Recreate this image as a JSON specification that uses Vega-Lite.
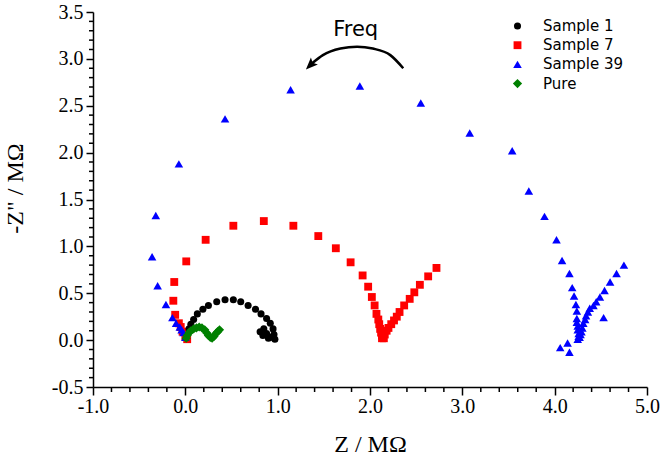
{
  "$schema": "https://vega.github.io/schema/vega-lite/v6.json",
  "width": 554,
  "height": 375,
  "autosize": "none",
  "padding": {"left": 93, "top": 12, "right": 19, "bottom": 68},
  "background": "white",
  "config": {
    "view": {"stroke": null},
    "axis": {"grid": false, "labelFont": "Liberation Serif", "labelFontSize": 20, "labelColor": "black", "titleFont": "Liberation Serif", "titleFontSize": 24, "titleFontWeight": "normal", "titleColor": "black", "tickColor": "black", "tickWidth": 1.5, "domainColor": "black", "domainWidth": 1.5},
    "legend": {"labelFont": "DejaVu Sans", "labelFontSize": 15, "labelColor": "black"}
  },
  "layer": [
    {
      "data": {"values": [
        {"series": "Sample 7", "z": 0.02, "zi": 0.01},
        {"series": "Sample 7", "z": 0.00, "zi": 0.04},
        {"series": "Sample 7", "z": -0.03, "zi": 0.09},
        {"series": "Sample 7", "z": -0.05, "zi": 0.14},
        {"series": "Sample 7", "z": -0.07, "zi": 0.18},
        {"series": "Sample 7", "z": -0.11, "zi": 0.27},
        {"series": "Sample 7", "z": -0.13, "zi": 0.42},
        {"series": "Sample 7", "z": -0.12, "zi": 0.62},
        {"series": "Sample 7", "z": 0.01, "zi": 0.84},
        {"series": "Sample 7", "z": 0.22, "zi": 1.07},
        {"series": "Sample 7", "z": 0.52, "zi": 1.22},
        {"series": "Sample 7", "z": 0.85, "zi": 1.27},
        {"series": "Sample 7", "z": 1.17, "zi": 1.22},
        {"series": "Sample 7", "z": 1.44, "zi": 1.11},
        {"series": "Sample 7", "z": 1.63, "zi": 0.98},
        {"series": "Sample 7", "z": 1.79, "zi": 0.83},
        {"series": "Sample 7", "z": 1.92, "zi": 0.69},
        {"series": "Sample 7", "z": 1.98, "zi": 0.57},
        {"series": "Sample 7", "z": 2.02, "zi": 0.46},
        {"series": "Sample 7", "z": 2.05, "zi": 0.37},
        {"series": "Sample 7", "z": 2.07, "zi": 0.28},
        {"series": "Sample 7", "z": 2.09, "zi": 0.22},
        {"series": "Sample 7", "z": 2.10, "zi": 0.17},
        {"series": "Sample 7", "z": 2.11, "zi": 0.12},
        {"series": "Sample 7", "z": 2.12, "zi": 0.08},
        {"series": "Sample 7", "z": 2.13, "zi": 0.05},
        {"series": "Sample 7", "z": 2.13, "zi": 0.02},
        {"series": "Sample 7", "z": 2.15, "zi": 0.02},
        {"series": "Sample 7", "z": 2.16, "zi": 0.06},
        {"series": "Sample 7", "z": 2.18, "zi": 0.10},
        {"series": "Sample 7", "z": 2.20, "zi": 0.13},
        {"series": "Sample 7", "z": 2.23, "zi": 0.17},
        {"series": "Sample 7", "z": 2.26, "zi": 0.21},
        {"series": "Sample 7", "z": 2.29, "zi": 0.25},
        {"series": "Sample 7", "z": 2.32, "zi": 0.30},
        {"series": "Sample 7", "z": 2.37, "zi": 0.37},
        {"series": "Sample 7", "z": 2.43, "zi": 0.44},
        {"series": "Sample 7", "z": 2.48, "zi": 0.51},
        {"series": "Sample 7", "z": 2.54, "zi": 0.59},
        {"series": "Sample 7", "z": 2.63, "zi": 0.68},
        {"series": "Sample 7", "z": 2.72, "zi": 0.77},
        {"series": "Sample 39", "z": 0.00, "zi": 0.03},
        {"series": "Sample 39", "z": -0.02, "zi": 0.08},
        {"series": "Sample 39", "z": -0.04, "zi": 0.11},
        {"series": "Sample 39", "z": -0.06, "zi": 0.14},
        {"series": "Sample 39", "z": -0.10, "zi": 0.18},
        {"series": "Sample 39", "z": -0.14, "zi": 0.24},
        {"series": "Sample 39", "z": -0.21, "zi": 0.38},
        {"series": "Sample 39", "z": -0.30, "zi": 0.58},
        {"series": "Sample 39", "z": -0.36, "zi": 0.89},
        {"series": "Sample 39", "z": -0.32, "zi": 1.33},
        {"series": "Sample 39", "z": -0.07, "zi": 1.88},
        {"series": "Sample 39", "z": 0.43, "zi": 2.36},
        {"series": "Sample 39", "z": 1.14, "zi": 2.67},
        {"series": "Sample 39", "z": 1.89, "zi": 2.71},
        {"series": "Sample 39", "z": 2.55, "zi": 2.53},
        {"series": "Sample 39", "z": 3.08, "zi": 2.21},
        {"series": "Sample 39", "z": 3.54, "zi": 2.02},
        {"series": "Sample 39", "z": 3.72, "zi": 1.59},
        {"series": "Sample 39", "z": 3.89, "zi": 1.32},
        {"series": "Sample 39", "z": 4.02, "zi": 1.07},
        {"series": "Sample 39", "z": 4.08, "zi": 0.85},
        {"series": "Sample 39", "z": 4.16, "zi": 0.71},
        {"series": "Sample 39", "z": 4.19, "zi": 0.56},
        {"series": "Sample 39", "z": 4.21, "zi": 0.47},
        {"series": "Sample 39", "z": 4.23, "zi": 0.38},
        {"series": "Sample 39", "z": 4.24, "zi": 0.31},
        {"series": "Sample 39", "z": 4.24, "zi": 0.23},
        {"series": "Sample 39", "z": 4.24, "zi": 0.19},
        {"series": "Sample 39", "z": 4.25, "zi": 0.15},
        {"series": "Sample 39", "z": 4.25, "zi": 0.11},
        {"series": "Sample 39", "z": 4.26, "zi": 0.07},
        {"series": "Sample 39", "z": 4.26, "zi": 0.04},
        {"series": "Sample 39", "z": 4.25, "zi": 0.01},
        {"series": "Sample 39", "z": 4.27, "zi": 0.03},
        {"series": "Sample 39", "z": 4.28, "zi": 0.06},
        {"series": "Sample 39", "z": 4.29, "zi": 0.09},
        {"series": "Sample 39", "z": 4.30, "zi": 0.13},
        {"series": "Sample 39", "z": 4.31, "zi": 0.18},
        {"series": "Sample 39", "z": 4.33, "zi": 0.22},
        {"series": "Sample 39", "z": 4.34, "zi": 0.26},
        {"series": "Sample 39", "z": 4.36, "zi": 0.30},
        {"series": "Sample 39", "z": 4.38, "zi": 0.34},
        {"series": "Sample 39", "z": 4.42, "zi": 0.37},
        {"series": "Sample 39", "z": 4.45, "zi": 0.41},
        {"series": "Sample 39", "z": 4.49, "zi": 0.46},
        {"series": "Sample 39", "z": 4.54, "zi": 0.53},
        {"series": "Sample 39", "z": 4.60, "zi": 0.62},
        {"series": "Sample 39", "z": 4.67, "zi": 0.71},
        {"series": "Sample 39", "z": 4.75, "zi": 0.80},
        {"series": "Sample 39", "z": 4.53, "zi": 0.24},
        {"series": "Sample 39", "z": 4.06, "zi": -0.08},
        {"series": "Sample 39", "z": 4.14, "zi": -0.03},
        {"series": "Sample 39", "z": 4.16, "zi": -0.13},
        {"series": "Sample 1", "z": 0.04, "zi": 0.12},
        {"series": "Sample 1", "z": 0.06, "zi": 0.17},
        {"series": "Sample 1", "z": 0.09, "zi": 0.22},
        {"series": "Sample 1", "z": 0.13, "zi": 0.28},
        {"series": "Sample 1", "z": 0.19, "zi": 0.33},
        {"series": "Sample 1", "z": 0.25, "zi": 0.37},
        {"series": "Sample 1", "z": 0.34, "zi": 0.41},
        {"series": "Sample 1", "z": 0.43, "zi": 0.43},
        {"series": "Sample 1", "z": 0.52, "zi": 0.43},
        {"series": "Sample 1", "z": 0.60, "zi": 0.41},
        {"series": "Sample 1", "z": 0.68, "zi": 0.37},
        {"series": "Sample 1", "z": 0.76, "zi": 0.33},
        {"series": "Sample 1", "z": 0.82, "zi": 0.28},
        {"series": "Sample 1", "z": 0.88, "zi": 0.23},
        {"series": "Sample 1", "z": 0.92, "zi": 0.18},
        {"series": "Sample 1", "z": 0.95, "zi": 0.12},
        {"series": "Sample 1", "z": 0.96, "zi": 0.06},
        {"series": "Sample 1", "z": 0.97, "zi": 0.01},
        {"series": "Sample 1", "z": 0.93, "zi": 0.03},
        {"series": "Sample 1", "z": 0.88, "zi": 0.07},
        {"series": "Sample 1", "z": 0.85, "zi": 0.12},
        {"series": "Sample 1", "z": 0.81, "zi": 0.09},
        {"series": "Sample 1", "z": 0.84, "zi": 0.05},
        {"series": "Sample 1", "z": 0.90, "zi": 0.02},
        {"series": "Pure", "z": 0.01, "zi": 0.02},
        {"series": "Pure", "z": 0.02, "zi": 0.05},
        {"series": "Pure", "z": 0.04, "zi": 0.08},
        {"series": "Pure", "z": 0.06, "zi": 0.10},
        {"series": "Pure", "z": 0.09, "zi": 0.12},
        {"series": "Pure", "z": 0.12, "zi": 0.13},
        {"series": "Pure", "z": 0.15, "zi": 0.14},
        {"series": "Pure", "z": 0.18, "zi": 0.13},
        {"series": "Pure", "z": 0.21, "zi": 0.11},
        {"series": "Pure", "z": 0.23, "zi": 0.08},
        {"series": "Pure", "z": 0.25, "zi": 0.05},
        {"series": "Pure", "z": 0.27, "zi": 0.03},
        {"series": "Pure", "z": 0.29, "zi": 0.02},
        {"series": "Pure", "z": 0.31, "zi": 0.04},
        {"series": "Pure", "z": 0.33, "zi": 0.07},
        {"series": "Pure", "z": 0.35, "zi": 0.09},
        {"series": "Pure", "z": 0.37, "zi": 0.11}
      ]},
      "mark": {"type": "point", "filled": true, "opacity": 1, "strokeWidth": 0},
      "encoding": {
        "x": {
          "field": "z", "type": "quantitative",
          "scale": {"domain": [-1, 5], "nice": false, "zero": false},
          "axis": {
            "title": "Z / MΩ",
            "values": [-1, 0, 1, 2, 3, 4, 5],
            "labelExpr": "(datum.value < 0 ? '-' : '') + format(abs(datum.value), '.1f')",
            "tickSize": 8,
            "labelFont": "Liberation Serif", "labelFontSize": 20,
            "labelBaseline": "alphabetic", "labelPadding": 17,
            "labelOverlap": false, "labelFlush": false,
            "titleBaseline": "alphabetic", "titleY": 64
          }
        },
        "y": {
          "field": "zi", "type": "quantitative",
          "scale": {"domain": [-0.5, 3.5], "nice": false, "zero": false},
          "axis": {
            "title": "-Z\" / MΩ",
            "values": [-0.5, 0, 0.5, 1, 1.5, 2, 2.5, 3, 3.5],
            "labelExpr": "(datum.value < 0 ? '-' : '') + format(abs(datum.value), '.1f')",
            "tickSize": 7,
            "labelFont": "Liberation Serif", "labelFontSize": 20,
            "labelPadding": 3, "labelOverlap": false, "labelFlush": false,
            "titleAngle": 270, "titleX": -78, "titleY": 176, "titleAlign": "center", "titleBaseline": "middle"
          }
        },
        "color": {
          "field": "series", "type": "nominal",
          "scale": {"domain": ["Sample 1", "Sample 7", "Sample 39", "Pure"], "range": ["#000000", "#ff0000", "#0000ff", "#008000"]},
          "legend": {"title": null, "orient": "none", "legendX": 417, "legendY": 6.5, "padding": 0, "labelOffset": 18, "rowPadding": 3.2}
        },
        "shape": {
          "field": "series", "type": "nominal",
          "scale": {"domain": ["Sample 1", "Sample 7", "Sample 39", "Pure"], "range": ["circle", "square", "triangle-up", "diamond"]},
          "legend": {"title": null, "orient": "none", "legendX": 417, "legendY": 6.5, "padding": 0, "labelOffset": 18, "rowPadding": 3.2}
        },
        "size": {
          "field": "series", "type": "nominal",
          "scale": {"domain": ["Sample 1", "Sample 7", "Sample 39", "Pure"], "range": [50, 85, 50, 40]},
          "legend": {"title": null, "orient": "none", "legendX": 417, "legendY": 6.5, "padding": 0, "labelOffset": 18, "rowPadding": 3.2}
        }
      }
    },
    {
      "data": {"values": [
        {"mz": -0.8}, {"mz": -0.6}, {"mz": -0.4}, {"mz": -0.2}, {"mz": 0.2}, {"mz": 0.4}, {"mz": 0.6}, {"mz": 0.8},
        {"mz": 1.2}, {"mz": 1.4}, {"mz": 1.6}, {"mz": 1.8}, {"mz": 2.2}, {"mz": 2.4}, {"mz": 2.6}, {"mz": 2.8},
        {"mz": 3.2}, {"mz": 3.4}, {"mz": 3.6}, {"mz": 3.8}, {"mz": 4.2}, {"mz": 4.4}, {"mz": 4.6}, {"mz": 4.8}
      ]},
      "mark": {"type": "tick", "orient": "vertical", "size": 5, "thickness": 1.5, "yOffset": 2.5, "color": "black", "opacity": 1},
      "encoding": {
        "x": {"field": "mz", "type": "quantitative"},
        "y": {"datum": -0.5, "type": "quantitative"}
      }
    },
    {
      "data": {"values": [
        {"mzi": -0.4}, {"mzi": -0.3}, {"mzi": -0.2}, {"mzi": -0.1}, {"mzi": 0.1}, {"mzi": 0.2}, {"mzi": 0.3}, {"mzi": 0.4},
        {"mzi": 0.6}, {"mzi": 0.7}, {"mzi": 0.8}, {"mzi": 0.9}, {"mzi": 1.1}, {"mzi": 1.2}, {"mzi": 1.3}, {"mzi": 1.4},
        {"mzi": 1.6}, {"mzi": 1.7}, {"mzi": 1.8}, {"mzi": 1.9}, {"mzi": 2.1}, {"mzi": 2.2}, {"mzi": 2.3}, {"mzi": 2.4},
        {"mzi": 2.6}, {"mzi": 2.7}, {"mzi": 2.8}, {"mzi": 2.9}, {"mzi": 3.1}, {"mzi": 3.2}, {"mzi": 3.3}, {"mzi": 3.4}
      ]},
      "mark": {"type": "tick", "orient": "horizontal", "size": 4, "thickness": 1.5, "xOffset": -2, "color": "black", "opacity": 1},
      "encoding": {
        "x": {"datum": -1, "type": "quantitative"},
        "y": {"field": "mzi", "type": "quantitative"}
      }
    },
    {
      "data": {"values": [
        {"z": 2.36, "zi": 2.90},
        {"z": 2.22, "zi": 3.04},
        {"z": 2.03, "zi": 3.11},
        {"z": 1.86, "zi": 3.13},
        {"z": 1.68, "zi": 3.11},
        {"z": 1.49, "zi": 3.04},
        {"z": 1.37, "zi": 2.95}
      ]},
      "mark": {"type": "line", "color": "black", "strokeWidth": 2.5, "interpolate": "monotone"},
      "encoding": {
        "x": {"field": "z", "type": "quantitative"},
        "y": {"field": "zi", "type": "quantitative"}
      }
    },
    {
      "data": {"values": [{"z": 1.36, "zi": 2.94}]},
      "mark": {"type": "point", "shape": "M0,-1L0.7,0.7L0,0.35L-0.7,0.7Z", "filled": true, "color": "black", "opacity": 1, "size": 200, "angle": 225, "strokeWidth": 0},
      "encoding": {
        "x": {"field": "z", "type": "quantitative"},
        "y": {"field": "zi", "type": "quantitative"}
      }
    },
    {
      "data": {"values": [{"z": 1.845, "zi": 3.246, "t": "Freq"}]},
      "mark": {"type": "text", "font": "DejaVu Sans", "fontSize": 21, "baseline": "alphabetic", "align": "center", "color": "black"},
      "encoding": {
        "x": {"field": "z", "type": "quantitative"},
        "y": {"field": "zi", "type": "quantitative"},
        "text": {"field": "t"}
      }
    }
  ]
}
